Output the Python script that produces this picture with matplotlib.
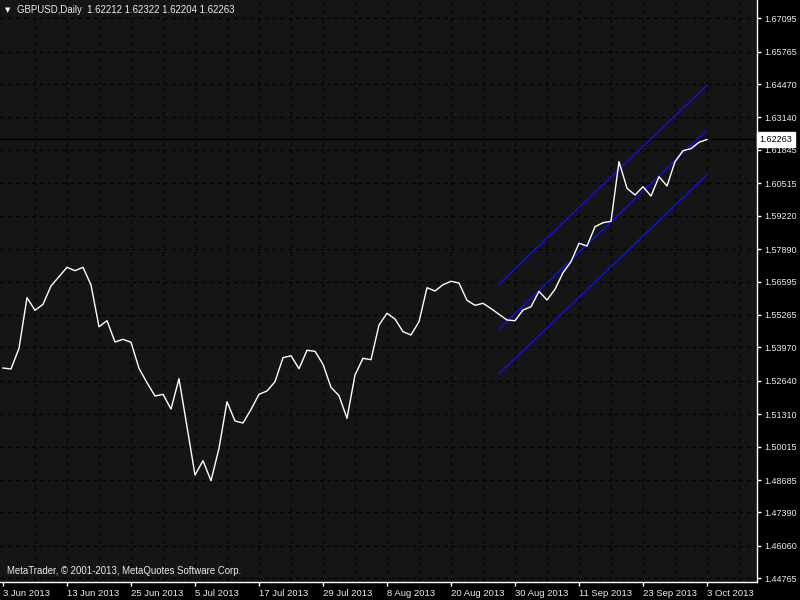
import numpy as np
import matplotlib
matplotlib.use("Agg")
import matplotlib.pyplot as plt

# GBPUSD daily closes, 3 Jun 2013 .. 3 Oct 2013
closes = [
    1.53151, 1.53111, 1.53937, 1.55954, 1.55452, 1.55691, 1.56421, 1.56792,
    1.57166, 1.57031, 1.57166, 1.56461, 1.54798, 1.55037, 1.54188, 1.54295,
    1.54176, 1.53139, 1.52565, 1.52034, 1.52102, 1.51516, 1.52724, 1.50810,
    1.48884, 1.49455, 1.48657, 1.49949, 1.51807, 1.51038, 1.50958, 1.51496,
    1.52102, 1.52234, 1.52605, 1.53562, 1.53642, 1.53123, 1.53857, 1.53817,
    1.53299, 1.52381, 1.52047, 1.51145, 1.52872, 1.53538, 1.53482, 1.54866,
    1.55332, 1.55105, 1.54598, 1.54467, 1.54997, 1.56353, 1.56221, 1.56473,
    1.56608, 1.56540, 1.55850, 1.55651, 1.55731, 1.55523, 1.55292, 1.55065,
    1.55037, 1.55464, 1.55595, 1.56209, 1.55862, 1.56289, 1.56951, 1.57390,
    1.58123, 1.58016, 1.58785, 1.58945, 1.59001, 1.61377, 1.60317, 1.60049,
    1.60380, 1.60009, 1.60779, 1.60408, 1.61377, 1.61816, 1.61896, 1.62151,
    1.62263,
]
date_labels = ["3 Jun 2013", "13 Jun 2013", "25 Jun 2013", "5 Jul 2013",
               "17 Jul 2013", "29 Jul 2013", "8 Aug 2013", "20 Aug 2013",
               "30 Aug 2013", "11 Sep 2013", "23 Sep 2013", "3 Oct 2013"]
price_ticks = [1.67095, 1.65765, 1.64470, 1.63140, 1.61845, 1.60515,
               1.59220, 1.57890, 1.56595, 1.55265, 1.53970, 1.52640,
               1.51310, 1.50015, 1.48685, 1.47390, 1.46060, 1.44765]

# regression channel: start/end bar, middle line prices, deviation
channel_bars = [62, 88]
channel_mid = [1.5471, 1.6264]
channel_dev = 0.0179

ohlc = [1.62212, 1.62322, 1.62204, 1.62263]

bg = "#151515"
fg = "#ececec"
font = "Liberation Sans"
fs = 6.5

fig = plt.figure(figsize=(8, 6), dpi=100, facecolor="black")
ax = fig.add_axes([0, 1 - 582 / 600, 757 / 800, 582 / 600])
ax.set_facecolor(bg)

x = np.arange(len(closes))
ax.plot(x, closes, color="white", lw=1.0, zorder=4)

# channel lines
for k in (-1, 0, 1):
    ax.plot(channel_bars, [m + k * channel_dev for m in channel_mid],
            color="#1010ee", lw=1.0, zorder=3)

# bid line
ax.axhline(closes[-1], color="black", lw=1.0, zorder=2)

ax.set_xlim(-0.375, 94.25)
ax.set_ylim(1.44618, 1.67825)

# grid
for gx in range(4, 96, 4):
    ax.axvline(gx, color="black", lw=0.8, ls=(0, (3.5, 3.5)), zorder=1)
for gy in price_ticks:
    ax.axhline(gy, color="black", lw=0.8, ls=(0, (3.5, 3.5)), zorder=1)

for side in ("left", "top"):
    ax.spines[side].set_visible(False)
for side in ("right", "bottom"):
    ax.spines[side].set_color("white")
    ax.spines[side].set_linewidth(1.0)

ax.yaxis.tick_right()
ax.set_yticks(price_ticks)
ax.set_yticklabels([f"{p:.5f}" for p in price_ticks])
ax.set_xticks(range(0, len(closes), 8))
ax.set_xticklabels(date_labels, ha="left")
ax.tick_params(axis="both", colors="white", labelcolor=fg, labelsize=fs,
               length=3, width=1, direction="out")
ax.tick_params(axis="y", pad=2)
ax.tick_params(axis="x", pad=2, labelsize=6.8)
for lab in ax.get_xticklabels() + ax.get_yticklabels():
    lab.set_fontfamily(font)

# current price label
ax.annotate(f"{closes[-1]:.5f}", xy=(1.0, closes[-1]),
            xycoords=("axes fraction", "data"), xytext=(2, 0),
            textcoords="offset points", ha="left", va="center",
            fontsize=fs, family=font, color="black",
            bbox=dict(boxstyle="square,pad=0.3", fc="white", ec="white"))

# header
ax.text(0.007, 0.983, "\u25bc", transform=ax.transAxes, color="white",
        fontsize=5, family="DejaVu Sans", va="center", ha="left")
ax.text(0.023, 0.983,
        "GBPUSD,Daily  " + " ".join(f"{v:.5f}" for v in ohlc),
        transform=ax.transAxes, color=fg, fontsize=6.9, family=font,
        va="center", ha="left")
ax.text(0.009, 0.011, "MetaTrader, \u00a9 2001-2013, MetaQuotes Software Corp.",
        transform=ax.transAxes, color=fg, fontsize=6.9, family=font,
        va="bottom", ha="left")

fig.savefig("out.png", dpi=100, facecolor="black")
